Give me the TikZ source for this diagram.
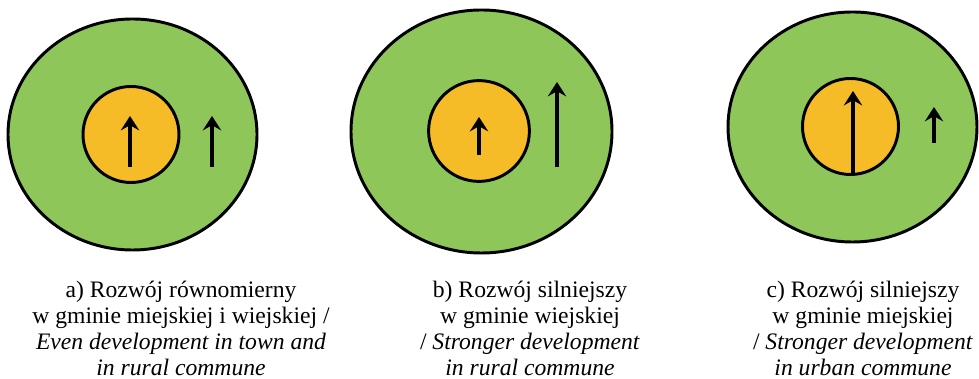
\documentclass[tikz,border=0pt]{standalone}
\usepackage{fontspec}
\setmainfont{Liberation Serif}
\usetikzlibrary{arrows.meta}
\usetikzlibrary{positioning}
\definecolor{ruralgreen}{RGB}{142, 198, 90}
\definecolor{townyellow}{RGB}{245, 188, 40}

\begin{document}
\begin{tikzpicture}[
    ringarea/.style={draw=black, line width=2.1pt, fill=ruralgreen},
    townarea/.style={draw=black, line width=2.1pt, fill=townyellow},
    growth/.style={line width=2.3pt, -{Stealth[length=0.36cm, width=0.46cm, inset=0.13cm]}},
    caption/.style={align=center, anchor=base, inner sep=0pt, font=\fontsize{16.8}{18.5}\selectfont}
  ]

    \useasboundingbox (0,0) rectangle (24.475, 9.475);

    % a)
    \draw[ringarea] (3.3125, 6.1125) ellipse (3.1125 and 2.8875);
    \draw[townarea] (3.275, 6.1125) circle (1.2);
    \coordinate (a1s) at (3.25, 5.3);
    \coordinate (a1e) at (3.25, 6.575);
    \coordinate (a2s) at (5.3, 5.3);
    \coordinate (a2e) at (5.3, 6.575);
    \draw[growth] (a1s) -- (a1e);
    \draw[growth] (a2s) -- (a2e);

    % b)
    \draw[ringarea] (12.0375, 6.1875) ellipse (3.2625 and 3.0375);
    \draw[townarea] (11.975, 6.2) circle (1.26);
    \coordinate (b1s) at (11.975, 5.6);
    \coordinate (b1e) at (11.975, 6.55);
    \coordinate (b2s) at (13.925, 5.3);
    \coordinate (b2e) at (13.925, 7.425);
    \draw[growth] (b1s) -- (b1e);
    \draw[growth] (b2s) -- (b2e);

    % c)
    \draw[ringarea] (21.3125, 6.3) ellipse (3.1125 and 2.875);
    \draw[townarea] (21.2625, 6.3125) circle (1.2);
    \coordinate (c1s) at (21.325, 5.15);
    \coordinate (c1e) at (21.325, 7.2);
    \coordinate (c2s) at (23.35, 5.9);
    \coordinate (c2e) at (23.35, 6.8);
    \draw[growth] (c1s) -- (c1e);
    \draw[growth] (c2s) -- (c2e);

    % captions, base = last line
    \node[caption] (capa) at (4.525, 0.08) {a) Rozwój równomierny\\ w gminie miejskiej i wiejskiej /\\ \textit{Even development in town and}\\ \textit{in rural commune}};
    \node[caption] (capb) at (13.25, 0.08) {b) Rozwój silniejszy\\ w gminie wiejskiej\\ / \textit{Stronger development}\\ \textit{in rural commune}};
    \node[caption] (capc) at (21.575, 0.08) {c) Rozwój silniejszy\\ w gminie miejskiej\\ / \textit{Stronger development}\\ \textit{in urban commune}};

  \end{tikzpicture}
\end{document}
